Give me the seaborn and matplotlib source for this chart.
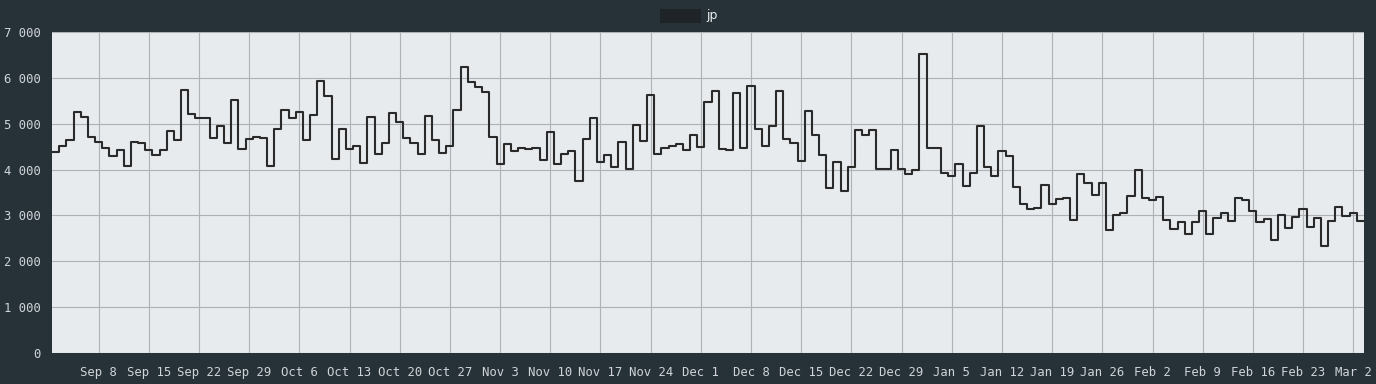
import matplotlib
matplotlib.use("Agg")
import pandas as pd
import seaborn as sns
import matplotlib.pyplot as plt
from matplotlib.patches import Rectangle
from matplotlib.ticker import FuncFormatter, MultipleLocator

# daily values, Sep 2 2024 .. Mar 3 2025
sep_vals = [4384, 4514, 4645, 5254, 5145, 4717, 4594, 4464, 4290, 4428,
            4087, 4609, 4587, 4428, 4312, 4435, 4848, 4638, 5746, 5203,
            5116, 5130, 4688, 4942, 4587, 5522, 4449, 4659, 4717]
oct_vals = [4688, 4080, 4877, 5290, 5130, 5261, 4638, 5181, 5942, 5601,
            4232, 4884, 4457, 4514, 4152, 5145, 4341, 4572, 5225, 5043,
            4688, 4580, 4341, 5159, 4645, 4362, 4522, 5290, 6232, 5899, 5797]
nov_vals = [5696, 4703, 4130, 4558, 4413, 4464, 4442, 4478, 4203, 4819,
            4116, 4348, 4406, 3746, 4674, 5123, 4159, 4312, 4051, 4594,
            4007, 4971, 4616, 5616, 4341, 4464, 4507, 4558, 4420, 4746]
dec_vals = [4486, 5464, 5717, 4449, 4420, 5667, 4464, 5826, 4884, 4514,
            4942, 5703, 4667, 4580, 4181, 5283, 4761, 4326, 3609, 4174,
            3529, 4058, 4855, 4761, 4862, 4014, 4014, 4435, 4014, 3899, 3993]
jan_vals = [6529, 4464, 4471, 3928, 3855, 4116, 3645, 3920, 4949, 4051,
            3855, 4413, 4290, 3616, 3246, 3145, 3167, 3667, 3254, 3355,
            3384, 2899, 3906, 3703, 3442, 3703, 2674, 3014, 3043, 3428, 4000]
feb_vals = [3377, 3333, 3406, 2906, 2696, 2848, 2594, 2855, 3101, 2594,
            2935, 3058, 2877, 3377, 3333, 3101, 2862, 2928, 2471, 3007,
            2717, 2971, 3145, 2739, 2949, 2333, 2870, 3174]
mar_vals = [2993, 3043, 2877]

start_date = "2024-09-02"
tick_start, tick_end = "2024-09-08", "2025-03-02"
title_text = "jp"

values = sep_vals + oct_vals + nov_vals + dec_vals + jan_vals + feb_vals + mar_vals
dates = pd.date_range(start_date, periods=len(values), freq="D")

# each day is a flat step centred on its date
edges = list(dates - pd.Timedelta(hours=12)) + [dates[-1] + pd.Timedelta(hours=12)]
df = pd.DataFrame({"date": edges, "value": values + [values[-1]]})

bg = "#263238"
sns.set_theme(style="whitegrid", rc={
    "axes.facecolor": "#e8ebee",
    "figure.facecolor": bg,
    "grid.color": "#aeb2b6",
    "grid.linewidth": 0.8,
})
plt.rcParams["font.family"] = ["DejaVu Sans Mono", "DejaVu Sans"]

fig = plt.figure(figsize=(13.76, 3.84), dpi=100)
ax = fig.add_axes([52 / 1376, 1 - 353 / 384, 1312 / 1376, 321 / 384])

sns.lineplot(data=df, x="date", y="value", drawstyle="steps-post",
             color="#2a2a2a", linewidth=1.5, ax=ax)

ax.set_xlim(edges[0], edges[-1])
ax.set_ylim(0, 7000)
ax.yaxis.set_major_locator(MultipleLocator(1000))
ax.yaxis.set_major_formatter(FuncFormatter(lambda v, p: f"{int(v):,}".replace(",", " ")))

ticks = pd.date_range(tick_start, tick_end, freq="7D")
ax.set_xticks(ticks)
ax.set_xticklabels([f"{d:%b} {d.day}" for d in ticks])
ax.set_xlabel("")
ax.set_ylabel("")

for s in ax.spines.values():
    s.set_visible(False)

ax.tick_params(axis="x", length=5, width=1, color="#4f5b61", pad=4.5,
               labelsize=8.8, labelcolor="#cfd4d8")
ax.tick_params(axis="y", length=6.5, width=1, color="#9aa3a8", pad=1.5,
               labelsize=8.8, labelcolor="#cfd4d8")
ax.grid(True, which="major")

# title: redacted block followed by the text
fig.add_artist(Rectangle((660 / 1376, 1 - 23 / 384), 41 / 1376, 14 / 384,
                         transform=fig.transFigure, color="#1f2428", lw=0))
fig.text(706 / 1376, 1 - 16 / 384, title_text, ha="left", va="center",
         color="#eceff1", fontsize=9, family=["DejaVu Sans"])

fig.savefig("out.png", dpi=100, facecolor=bg)
